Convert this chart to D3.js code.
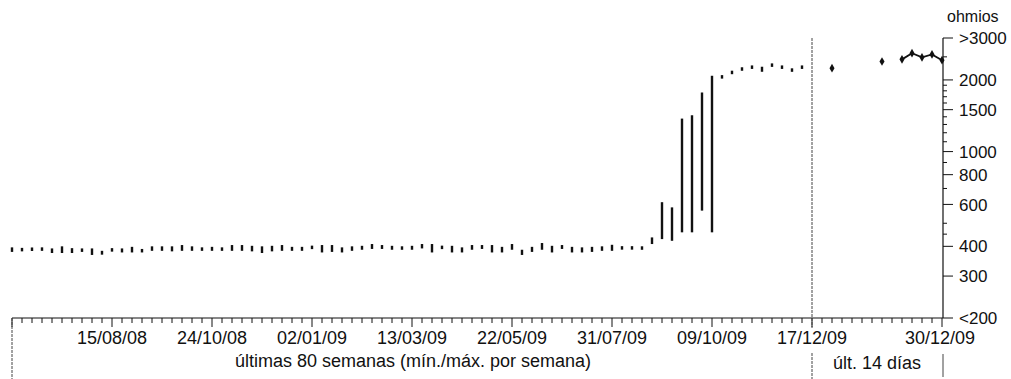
<!DOCTYPE html>
<html>
<head>
<meta charset="utf-8">
<script src="https://cdn.jsdelivr.net/npm/d3@7"></script>
<style>
  body { margin: 0; background: #fff; }
  svg { display: block; font-family: "Liberation Sans", Arial, sans-serif; }
</style>
</head>
<body>
<div id="app"></div>
<script>
// weekly min / max impedance (ohms), last 80 weeks
const weekMin = [379,383,383,383,375,375,375,379,368,369,381,377,377,377,383,383,381,383,383,383,
                 383,383,383,383,381,375,381,383,383,383,390,377,379,377,383,387,390,390,387,387,
                 387,392,377,390,377,377,387,390,377,377,387,368,379,387,377,390,377,377,379,383,
                 383,388,388,387,409,429,422,458,458,565,458,2050,2140,2210,2250,2164,2295,2250,2190,2250]
const weekMax = [396,392,395,396,392,400,393,392,392,383,392,392,398,390,400,400,400,405,400,396,
                 398,396,405,405,402,400,402,405,398,398,402,405,405,396,400,402,409,405,402,400,
                 402,409,409,402,402,396,405,405,405,398,409,387,398,413,402,405,398,396,398,400,
                 406,400,400,400,436,613,583,1376,1421,1771,2082,2070,2160,2235,2275,2272,2320,2275,2210,2275]
// last 14 days (17/12/09 .. 30/12/09), null = no measure
const dayValues = [null,null,2240,null,null,null,null,2390,null,2440,2590,2490,2560,2420]

const weekLabels = ['15/08/08','24/10/08','02/01/09','13/03/09','22/05/09','31/07/09','09/10/09','17/12/09']
const weekLabelIdx = [10,20,30,40,50,60,70,80]
const endLabel = '30/12/09'

const yTickVals = [200,300,400,600,800,1000,1500,2000,3000]
const yTickText = ['<200','300','400','600','800','1000','1500','2000','>3000']
const yMinorVals = [450,500,700,900,1100,1200,1300,1400,1600,1700,1800,1900,2500]

const W = 1011, H = 379
const axisY = 318, topY = 38

const svg = d3.select('#app').append('svg').attr('width', W).attr('height', H)

const xW = d3.scaleLinear().domain([0, 80]).range([12, 812])
const xD = d3.scaleLinear().domain([0, 13]).range([812, 942])
const y = d3.scaleLog().domain([200, 3000]).range([axisY, topY])

const ink = '#111'

// x axis line
svg.append('line').attr('x1', 12).attr('x2', 943).attr('y1', axisY).attr('y2', axisY)
  .attr('stroke', ink).attr('stroke-width', 1.2)

// weekly ticks
svg.append('g').selectAll('line').data(d3.range(0, 81)).enter().append('line')
  .attr('x1', d => xW(d)).attr('x2', d => xW(d))
  .attr('y1', axisY).attr('y2', d => (d % 10 == 0) ? axisY + 9 : axisY + 5)
  .attr('stroke', ink).attr('stroke-width', 1)
// daily ticks
svg.append('g').selectAll('line').data(d3.range(1, 14)).enter().append('line')
  .attr('x1', d => xD(d)).attr('x2', d => xD(d))
  .attr('y1', axisY).attr('y2', d => d == 13 ? axisY + 9 : axisY + 5)
  .attr('stroke', ink).attr('stroke-width', 1)

// x labels
svg.append('g').selectAll('text').data(weekLabels).enter().append('text')
  .attr('x', (d, i) => xW(weekLabelIdx[i])).attr('y', 344)
  .attr('text-anchor', 'middle').attr('font-size', 18).attr('fill', ink).text(d => d)
svg.append('text').attr('x', xD(13) - 2).attr('y', 344).attr('text-anchor', 'middle')
  .attr('font-size', 18).attr('fill', ink).text(endLabel)

svg.append('text').attr('x', (xW(0) + xW(80)) / 2 + 1).attr('y', 367).attr('text-anchor', 'middle')
  .attr('font-size', 18).attr('fill', ink).text('últimas 80 semanas (mín./máx. por semana)')
svg.append('text').attr('x', (xD(0) + xD(13)) / 2).attr('y', 369).attr('text-anchor', 'middle')
  .attr('font-size', 18).attr('fill', ink).text('últ. 14 días')

// separators
svg.append('line').attr('x1', xD(0)).attr('x2', xD(0)).attr('y1', topY).attr('y2', axisY + 10)
  .attr('stroke', '#444').attr('stroke-width', 1).attr('stroke-dasharray', '3,1')
svg.append('line').attr('x1', xD(0)).attr('x2', xD(0)).attr('y1', 353).attr('y2', H)
  .attr('stroke', '#444').attr('stroke-width', 1).attr('stroke-dasharray', '3,1')
svg.append('line').attr('x1', xW(0)).attr('x2', xW(0)).attr('y1', axisY).attr('y2', H)
  .attr('stroke', '#444').attr('stroke-width', 1).attr('stroke-dasharray', '3,1')
svg.append('line').attr('x1', 943).attr('x2', 943).attr('y1', 354).attr('y2', 377)
  .attr('stroke', '#444').attr('stroke-width', 1)

// y axis
svg.append('line').attr('x1', 943).attr('x2', 943).attr('y1', topY).attr('y2', axisY)
  .attr('stroke', ink).attr('stroke-width', 1.2)
svg.append('g').selectAll('line').data(yTickVals).enter().append('line')
  .attr('x1', 943).attr('x2', 953).attr('y1', d => y(d)).attr('y2', d => y(d))
  .attr('stroke', ink).attr('stroke-width', 1)
svg.append('g').selectAll('line').data(yMinorVals).enter().append('line')
  .attr('x1', 943).attr('x2', 947).attr('y1', d => y(d)).attr('y2', d => y(d))
  .attr('stroke', ink).attr('stroke-width', 1)
svg.append('g').selectAll('text').data(yTickVals).enter().append('text')
  .attr('x', 959).attr('y', d => y(d)).attr('dy', '0.36em')
  .attr('font-size', 17).attr('fill', ink).text((d, i) => yTickText[i])
svg.append('text').attr('x', 947).attr('y', 22).attr('font-size', 16).attr('fill', ink).text('ohmios')

// weekly min/max bars
const weeks = weekMin.map((d, i) => ({ i: i, min: d, max: weekMax[i] }))
svg.append('g').selectAll('rect').data(weeks).enter().append('rect')
  .attr('x', d => xW(d.i) - 1.2).attr('width', 2.4)
  .attr('y', d => {
    const h = y(d.min) - y(d.max)
    return h < 3.5 ? (y(d.min) + y(d.max)) / 2 - 1.75 : y(d.max)
  })
  .attr('height', d => Math.max(3.5, y(d.min) - y(d.max)))
  .attr('fill', ink)

// daily values
const days = dayValues.map((v, i) => ({ i: i, v: v }))
const line = d3.line().defined(d => d.v != null).x(d => xD(d.i)).y(d => y(d.v))
svg.append('path').datum(days).attr('d', line)
  .attr('fill', 'none').attr('stroke', ink).attr('stroke-width', 1.8)
svg.append('g').selectAll('path').data(days.filter(d => d.v != null)).enter().append('path')
  .attr('transform', d => 'translate(' + xD(d.i) + ',' + y(d.v) + ')')
  .attr('d', d3.symbol().type(d3.symbolDiamond).size(22))
  .attr('fill', ink)
</script>
</body>
</html>
